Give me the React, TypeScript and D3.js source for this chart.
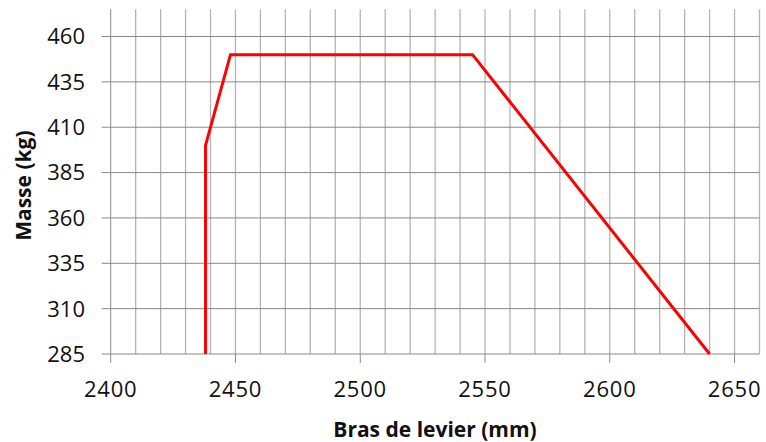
import * as d3 from 'd3';

// line points: bras de levier (mm) / masse (kg)
const armMm = [2438, 2438, 2448, 2545, 2640];
const massKg = [285, 400, 450, 450, 285];

const xTicks = [2400, 2450, 2500, 2550, 2600, 2650];
const yTicks = [285, 310, 335, 360, 385, 410, 435, 460];
const xGrid = d3.range(2410, 2661, 10);

const W = 766;
const H = 442;
const margin = { left: 110.7, right: W - 759.5, top: 9.3, bottom: H - 354 };

export default function App() {
  const x = d3.scaleLinear().domain([2400, 2660]).range([margin.left, W - margin.right]);
  const y = d3.scaleLinear().domain([285, 475]).range([H - margin.bottom, margin.top]);

  const line = d3
    .line<number>()
    .x((_, i) => x(armMm[i]))
    .y(d => y(d));

  const font = "'Open Sans', 'DejaVu Sans', sans-serif";

  return (
    <div style={{ position: 'fixed', left: 0, top: 0 }}>
      <svg width={W} height={H} style={{ display: 'block', background: '#fff' }}>
        {/* vertical grid */}
        {xGrid.map(v => (
          <line key={'vx' + v} x1={x(v)} x2={x(v)} y1={y(475)} y2={y(285)} stroke="#b4b4b4" strokeWidth={1.3} />
        ))}
        {/* horizontal grid */}
        {yTicks.map(v => (
          <line key={'hy' + v} x1={x(2400) - 9} x2={x(2660)} y1={y(v)} y2={y(v)} stroke="#898989" strokeWidth={1} />
        ))}
        {/* left axis */}
        <line x1={x(2400)} x2={x(2400)} y1={y(475)} y2={y(285)} stroke="#898989" strokeWidth={1} />
        {/* x ticks */}
        {xTicks.map(v => (
          <line key={'tx' + v} x1={x(v)} x2={x(v)} y1={y(285)} y2={y(285) + 9} stroke="#898989" strokeWidth={1} />
        ))}

        <path d={line(massKg) ?? ''} fill="none" stroke="#ff0000" strokeWidth={3} strokeLinejoin="miter" />

        {yTicks.map(v => (
          <text key={'ly' + v} x={85} y={y(v)} dy="0.36em" textAnchor="end" fontFamily={font} fontSize={22} fill="#111">
            {v}
          </text>
        ))}
        {xTicks.map(v => (
          <text key={'lx' + v} x={x(v)} y={397} textAnchor="middle" fontFamily={font} fontSize={22} letterSpacing={0.8} fill="#111">
            {v}
          </text>
        ))}

        <text x={435} y={437} textAnchor="middle" fontFamily={font} fontSize={21} fontWeight="bold" fill="#111">
          Bras de levier (mm)
        </text>
        <text
          transform={`translate(31,${(y(475) + y(285)) / 2 + 4}) rotate(-90)`}
          textAnchor="middle"
          fontFamily={font}
          fontSize={21}
          fontWeight="bold"
          fill="#111"
        >
          Masse (kg)
        </text>
      </svg>
    </div>
  );
}
